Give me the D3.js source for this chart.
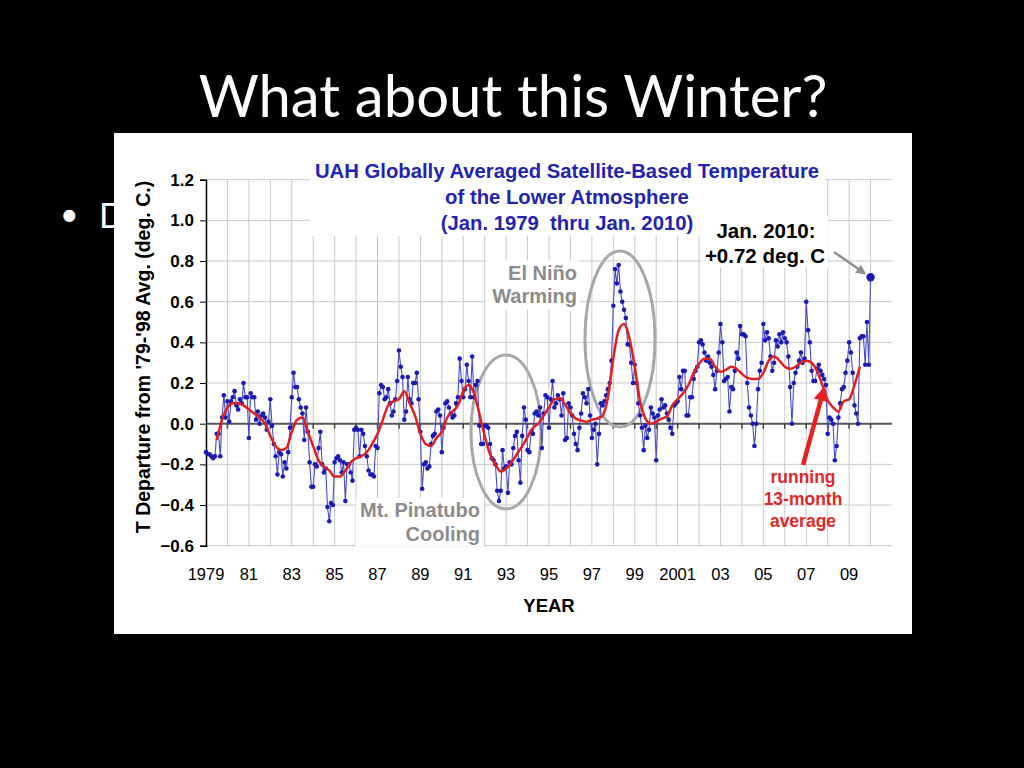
<!DOCTYPE html>
<html>
<head>
<meta charset="utf-8">
<script src="https://cdn.jsdelivr.net/npm/d3@7/dist/d3.min.js"></script>
<style>
    html, body { margin: 0; padding: 0; background: #000; }
    svg { display: block; }
</style>
</head>
<body>
<div id="slide"></div>
<script>
// UAH lower-troposphere anomalies, deg C vs 1979-98, one row per year (Jan..Dec)
const firstYear = 1979;
const monthlyAnomaly = [
    [-0.14,-0.15,-0.15,-0.16,-0.17,-0.16,-0.05,-0.05,-0.16,0.03,0.14,0.03],   // 1979
    [0.11,0.01,0.11,0.13,0.16,0.09,0.07,0.12,0.10,0.20,0.13,0.13],            // 1980
    [-0.07,0.15,0.13,0.13,0.02,0.06,0.00,0.04,0.05,0.03,-0.03,0.01],          // 1981
    [0.12,-0.01,-0.10,-0.16,-0.25,-0.14,-0.15,-0.26,-0.19,-0.22,-0.14,-0.02], // 1982
    [0.13,0.25,0.18,0.18,0.12,0.08,0.05,-0.08,0.08,-0.04,-0.19,-0.31],        // 1983
    [-0.31,-0.20,-0.21,-0.12,-0.04,-0.20,-0.24,-0.22,-0.41,-0.48,-0.39,-0.40],// 1984
    [-0.19,-0.17,-0.16,-0.18,-0.24,-0.19,-0.38,-0.20,-0.20,-0.24,-0.28,-0.03],// 1985
    [-0.02,-0.03,-0.16,-0.03,-0.05,-0.11,-0.16,-0.23,-0.25,-0.25,-0.26,-0.11],// 1986
    [-0.12,0.15,0.19,0.18,0.12,0.13,0.17,0.10,0.04,0.06,0.12,0.21],           // 1987
    [0.36,0.28,0.23,0.02,0.06,0.23,0.12,0.10,0.20,0.20,0.25,0.12],            // 1988
    [-0.04,-0.32,-0.20,-0.19,-0.22,-0.21,-0.10,-0.06,-0.05,0.06,0.07,0.04],   // 1989
    [-0.14,-0.02,0.10,0.11,0.08,0.05,0.03,0.04,0.10,0.13,0.32,0.21],          // 1990
    [0.13,0.17,0.29,0.21,0.13,0.33,0.13,0.19,0.21,-0.01,-0.10,-0.10],         // 1991
    [-0.01,-0.01,-0.02,-0.10,-0.17,-0.18,-0.20,-0.33,-0.38,-0.33,-0.13,-0.22],// 1992
    [-0.21,-0.34,-0.19,-0.20,-0.12,-0.06,-0.04,-0.18,-0.29,-0.06,0.08,0.02],  // 1993
    [-0.13,-0.14,-0.04,-0.05,0.05,0.06,0.04,0.08,-0.12,0.05,0.14,0.13],       // 1994
    [-0.02,0.12,0.21,0.08,0.10,0.14,0.12,0.04,0.15,-0.08,-0.07,0.10],         // 1995
    [0.08,0.04,-0.05,-0.10,-0.13,-0.02,0.05,0.15,0.13,0.10,0.17,0.04],        // 1996
    [-0.07,-0.03,0.00,-0.20,-0.05,0.10,0.09,0.11,0.14,0.17,0.20,0.31],        // 1997
    [0.58,0.76,0.69,0.78,0.65,0.60,0.56,0.52,0.39,0.39,0.30,0.20],            // 1998
    [0.29,0.20,0.10,0.04,-0.02,-0.13,-0.01,-0.07,-0.03,0.08,0.05,0.03],       // 1999
    [-0.18,0.04,0.07,0.12,0.08,0.09,0.05,0.02,-0.02,-0.05,0.09,0.10],         // 2000
    [0.11,0.23,0.17,0.26,0.26,0.04,0.04,0.13,0.13,0.22,0.26,0.28],            // 2001
    [0.40,0.41,0.39,0.35,0.31,0.33,0.30,0.28,0.24,0.17,0.26,0.35],            // 2002
    [0.49,0.40,0.21,0.22,0.23,0.06,0.18,0.17,0.26,0.35,0.32,0.48],            // 2003
    [0.44,0.44,0.43,0.20,0.08,0.04,0.00,-0.11,0.00,0.17,0.26,0.30],           // 2004
    [0.49,0.41,0.45,0.42,0.33,0.26,0.30,0.41,0.38,0.44,0.40,0.45],            // 2005
    [0.42,0.40,0.33,0.18,0.00,0.20,0.25,0.28,0.31,0.35,0.30,0.32],            // 2006
    [0.60,0.46,0.40,0.26,0.21,0.21,0.27,0.29,0.26,0.24,0.22,0.19],            // 2007
    [-0.05,0.03,0.02,0.00,-0.18,-0.11,0.03,0.10,0.17,0.18,0.25,0.31],         // 2008
    [0.40,0.35,0.25,0.09,0.05,0.00,0.42,0.43,0.43,0.29,0.50,0.29],            // 2009
    [0.72]                                                                    // 2010
];

// running 13-month average, read every quarter from Jul 1979 to Jul 2009
const avgStart = 1979.5;
const avgStep = 0.25;
const runningAvg = [
    -0.08, 0.02, 0.08, 0.10, 0.10, 0.09, 0.07, 0.05, 0.03, 0.00,
    -0.06, -0.11, -0.13, -0.12, -0.04, 0.02, 0.03, -0.04, -0.11, -0.18,
    -0.21, -0.23, -0.26, -0.26, -0.23, -0.19, -0.17, -0.16, -0.14, -0.10,
    -0.05, 0.02, 0.09, 0.11, 0.12, 0.16, 0.10, 0.04, -0.05, -0.10,
    -0.11, -0.07, -0.04, 0.03, 0.06, 0.09, 0.16, 0.19, 0.15, 0.05,
    -0.06, -0.15, -0.20, -0.235, -0.22, -0.19, -0.15, -0.11, -0.065, -0.02,
    0.00, 0.04, 0.08, 0.12, 0.125, 0.095, 0.05, 0.025, 0.015, 0.01,
    0.02, 0.025, 0.04, 0.13, 0.32, 0.46, 0.49, 0.42, 0.28, 0.11,
    0.025, 0.00, 0.01, 0.025, 0.035, 0.09, 0.12, 0.15, 0.19, 0.25,
    0.295, 0.32, 0.32, 0.28, 0.255, 0.265, 0.28, 0.27, 0.245, 0.225,
    0.22, 0.22, 0.25, 0.31, 0.33, 0.31, 0.28, 0.27, 0.28, 0.30,
    0.31, 0.30, 0.26, 0.19, 0.115, 0.08, 0.06, 0.11, 0.12, 0.19,
    0.28
];

const yTicks = [1.2, 1.0, 0.8, 0.6, 0.4, 0.2, 0.0, -0.2, -0.4, -0.6];
const xLabelYears = [1979, 1981, 1983, 1985, 1987, 1989, 1991, 1993, 1995, 1997, 1999, 2001, 2003, 2005, 2007, 2009];
const xLabels = ["1979", "81", "83", "85", "87", "89", "91", "93", "95", "97", "99", "2001", "03", "05", "07", "09"];
const titleLines = ["UAH Globally Averaged Satellite-Based Temperature", "of the Lower Atmosphere", "(Jan. 1979  thru Jan. 2010)"];

// flatten to {t, v}
const points = [];
monthlyAnomaly.forEach((row, i) => {
    row.forEach((v, m) => points.push({ t: firstYear + i + m / 12, v: v }));
});
const avgPoints = runningAvg.map((v, i) => ({ t: avgStart + i * avgStep, v: v }));

const svg = d3.select("#slide").append("svg")
    .attr("width", 1024)
    .attr("height", 768);

svg.append("rect").attr("width", 1024).attr("height", 768).attr("fill", "#000");

// slide title + the bullet that the picture covers
svg.append("text")
    .attr("x", 513).attr("y", 117)
    .attr("text-anchor", "middle")
    .attr("fill", "#fff")
    .attr("font-family", "Lato, 'Open Sans', sans-serif")
    .attr("font-size", "58px")
    .text("What about this Winter?");

svg.append("text")
    .attr("x", 60).attr("y", 226)
    .attr("fill", "#fff")
    .attr("font-family", "Lato, sans-serif")
    .attr("font-size", "32px")
    .text("•");
svg.append("text")
    .attr("x", 99).attr("y", 228)
    .attr("fill", "#fff")
    .attr("font-family", "Lato, sans-serif")
    .attr("font-size", "34px")
    .text("D");

// the chart picture
const chart = svg.append("g");
chart.append("rect")
    .attr("x", 114).attr("y", 133)
    .attr("width", 798).attr("height", 501)
    .attr("fill", "#fff");

const x = d3.scaleLinear().domain([1979, 2011]).range([206, 892]);
const y = d3.scaleLinear().domain([-0.6, 1.2]).range([545.7, 179.7]);
const font = "'Liberation Sans', Arial, sans-serif";

// grid
chart.append("g").selectAll("line")
    .data(d3.range(1980, 2011))
    .enter().append("line")
    .attr("x1", d => x(d)).attr("x2", d => x(d))
    .attr("y1", y(1.2)).attr("y2", y(-0.6))
    .attr("stroke", "#c8c8c8")
    .attr("stroke-width", 1);

chart.append("g").selectAll("line")
    .data(yTicks.filter(d => d !== 0))
    .enter().append("line")
    .attr("x1", x(1979)).attr("x2", x(2011))
    .attr("y1", d => y(d)).attr("y2", d => y(d))
    .attr("stroke", "#c8c8c8")
    .attr("stroke-width", 1);

// white boxes behind the text labels (as in the original picture)
chart.append("rect").attr("x", 310).attr("y", 140).attr("width", 515).attr("height", 96).attr("fill", "#fff");
chart.append("rect").attr("x", 702).attr("y", 216).attr("width", 126).attr("height", 52).attr("fill", "#fff");
chart.append("rect").attr("x", 486).attr("y", 260).attr("width", 94).attr("height", 50).attr("fill", "#fff");
chart.append("rect").attr("x", 356).attr("y", 498).attr("width", 128).attr("height", 48).attr("fill", "#fff");

// zero line with year ticks
chart.append("line")
    .attr("x1", x(1979)).attr("x2", x(2011))
    .attr("y1", y(0)).attr("y2", y(0))
    .attr("stroke", "#555")
    .attr("stroke-width", 2);
chart.append("g").selectAll("line")
    .data(d3.range(1980, 2011))
    .enter().append("line")
    .attr("x1", d => x(d)).attr("x2", d => x(d))
    .attr("y1", y(0)).attr("y2", y(0) + 5)
    .attr("stroke", "#444")
    .attr("stroke-width", 1.5);

// y axis
const yAxis = d3.axisLeft(y)
    .tickValues(yTicks)
    .tickSize(6)
    .tickFormat(d3.format(".1f"));
const yg = chart.append("g")
    .attr("transform", `translate(${x(1979)},0)`)
    .call(yAxis);
yg.select(".domain").attr("stroke", "#000").attr("stroke-width", 1.5);
yg.selectAll(".tick line").attr("stroke", "#000");
yg.selectAll(".tick text")
    .attr("x", -12)
    .attr("fill", "#000")
    .attr("font-family", font)
    .attr("font-weight", "bold")
    .attr("font-size", "17px");

// x labels
chart.append("g").selectAll("text")
    .data(xLabelYears)
    .enter().append("text")
    .attr("x", d => x(d))
    .attr("y", 580)
    .attr("text-anchor", "middle")
    .attr("font-family", font)
    .attr("font-size", "16.5px")
    .attr("fill", "#000")
    .text((d, i) => xLabels[i]);

chart.append("text")
    .attr("x", 549).attr("y", 612)
    .attr("text-anchor", "middle")
    .attr("font-family", font)
    .attr("font-weight", "bold")
    .attr("font-size", "18.5px")
    .text("YEAR");

chart.append("text")
    .attr("transform", "translate(150,357) rotate(-90)")
    .attr("text-anchor", "middle")
    .attr("font-family", font)
    .attr("font-weight", "bold")
    .attr("font-size", "19.5px")
    .text("T Departure from '79-'98 Avg. (deg. C.)");

// ellipses
chart.append("ellipse")
    .attr("cx", 506).attr("cy", 432).attr("rx", 35).attr("ry", 77)
    .attr("fill", "none").attr("stroke", "#a8a8a8").attr("stroke-width", 3);
chart.append("ellipse")
    .attr("cx", 620).attr("cy", 339).attr("rx", 35).attr("ry", 88)
    .attr("fill", "none").attr("stroke", "#a8a8a8").attr("stroke-width", 3);

// monthly series
const line = d3.line().x(d => x(d.t)).y(d => y(d.v));
chart.append("path")
    .datum(points)
    .attr("d", line)
    .attr("fill", "none")
    .attr("stroke", "#4a4ac8")
    .attr("stroke-width", 1.1);

chart.append("g").selectAll("circle")
    .data(points)
    .enter().append("circle")
    .attr("cx", d => x(d.t))
    .attr("cy", d => y(d.v))
    .attr("r", (d, i) => i === points.length - 1 ? 4.2 : 2.3)
    .attr("fill", "#1a1ab4");

// running average
chart.append("path")
    .datum(avgPoints)
    .attr("d", d3.line().x(d => x(d.t)).y(d => y(d.v)).curve(d3.curveMonotoneX))
    .attr("fill", "none")
    .attr("stroke", "#e02020")
    .attr("stroke-width", 2.5);

// title
chart.append("g").selectAll("text")
    .data(titleLines)
    .enter().append("text")
    .attr("x", 567)
    .attr("y", (d, i) => 178 + i * 26)
    .attr("text-anchor", "middle")
    .attr("font-family", font)
    .attr("font-weight", "bold")
    .attr("font-size", "20.3px")
    .attr("fill", "#2323b0")
    .style("white-space", "pre")
    .text(d => d);

// annotations
const last = points[points.length - 1];
chart.append("text")
    .attr("x", 766).attr("y", 238)
    .attr("text-anchor", "middle")
    .attr("font-family", font).attr("font-weight", "bold").attr("font-size", "20.5px")
    .text("Jan. 2010:");
chart.append("text")
    .attr("x", 765).attr("y", 263)
    .attr("text-anchor", "middle")
    .attr("font-family", font).attr("font-weight", "bold").attr("font-size", "20.5px")
    .text("+0.72 deg. C");

chart.append("defs").append("marker")
    .attr("id", "greyhead")
    .attr("viewBox", "0 -5 10 10")
    .attr("refX", 8).attr("refY", 0)
    .attr("markerWidth", 4).attr("markerHeight", 4)
    .attr("orient", "auto")
    .append("path").attr("d", "M0,-5L10,0L0,5Z").attr("fill", "#909090");
chart.append("line")
    .attr("x1", 834).attr("y1", 252)
    .attr("x2", x(last.t) - 6).attr("y2", y(last.v) - 4)
    .attr("stroke", "#909090").attr("stroke-width", 2.5)
    .attr("marker-end", "url(#greyhead)");

chart.append("g").selectAll("text")
    .data(["El Niño", "Warming"])
    .enter().append("text")
    .attr("x", 577).attr("y", (d, i) => 280 + i * 23)
    .attr("text-anchor", "end")
    .attr("font-family", font).attr("font-weight", "bold").attr("font-size", "20px")
    .attr("fill", "#8c8c8c")
    .text(d => d);

chart.append("g").selectAll("text")
    .data(["Mt. Pinatubo", "Cooling"])
    .enter().append("text")
    .attr("x", 480).attr("y", (d, i) => 517 + i * 24)
    .attr("text-anchor", "end")
    .attr("font-family", font).attr("font-weight", "bold").attr("font-size", "20px")
    .attr("fill", "#8c8c8c")
    .text(d => d);

chart.append("defs").append("marker")
    .attr("id", "redhead")
    .attr("viewBox", "0 -5 10 10")
    .attr("refX", 6).attr("refY", 0)
    .attr("markerWidth", 3.2).attr("markerHeight", 3.2)
    .attr("orient", "auto")
    .append("path").attr("d", "M0,-5L10,0L0,5Z").attr("fill", "#e82020");
chart.append("line")
    .attr("x1", 803).attr("y1", 465)
    .attr("x2", 823).attr("y2", 392)
    .attr("stroke", "#e82020").attr("stroke-width", 4.5)
    .attr("marker-end", "url(#redhead)");

chart.append("g").selectAll("text")
    .data(["running", "13-month", "average"])
    .enter().append("text")
    .attr("x", 803).attr("y", (d, i) => 483 + i * 22)
    .attr("text-anchor", "middle")
    .attr("font-family", font).attr("font-weight", "bold").attr("font-size", "17.5px")
    .attr("fill", "#e02828")
    .text(d => d);
</script>
</body>
</html>
